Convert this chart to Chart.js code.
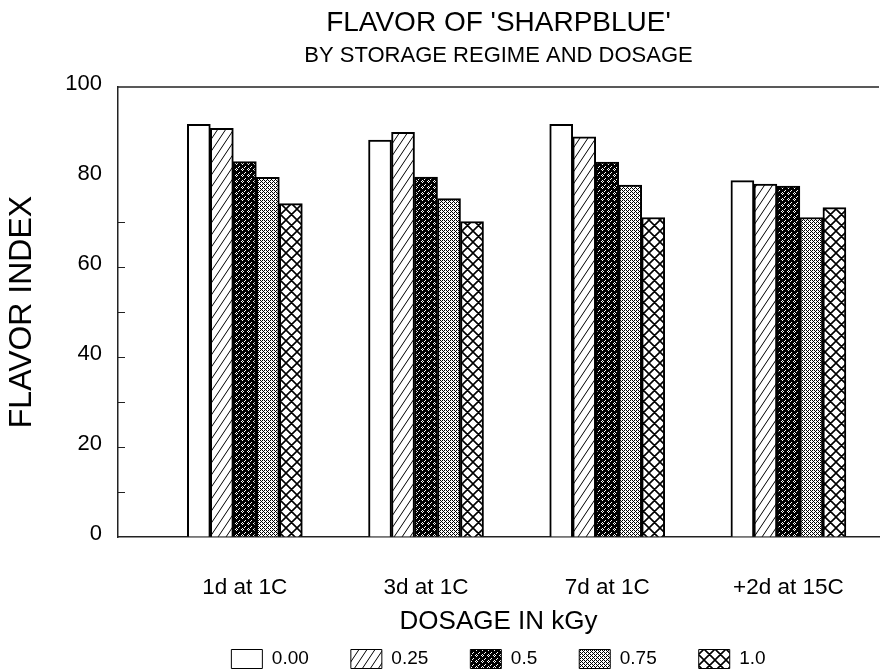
<!DOCTYPE html>
<html>
<head>
<meta charset="utf-8">
<script src="https://cdn.jsdelivr.net/npm/chart.js@4.4.1/dist/chart.umd.min.js"></script>
<style>
html,body{margin:0;padding:0;background:#ffffff;}
#wrap{width:881px;height:671px;}
</style>
</head>
<body>
<div id="wrap"><canvas id="c" width="881" height="671"></canvas></div>
<script>
// ---- data ----
const categories = ['1d at 1C', '3d at 1C', '7d at 1C', '+2d at 15C'];
const dosageLabels = ['0.00', '0.25', '0.5', '0.75', '1.0'];
const flavor000 = [91.7, 88.2, 91.7, 79.2];
const flavor025 = [90.8, 89.9, 88.9, 78.4];
const flavor050 = [83.4, 80.0, 83.3, 78.0];
const flavor075 = [79.9, 75.2, 78.2, 71.0];
const flavor100 = [74.1, 70.1, 71.0, 73.2];
const yTickValues = [0, 20, 40, 60, 80, 100];
const yMinorTicks = [10, 20, 30, 40, 50, 60, 70];

const FONT = "'Liberation Sans', Arial, Helvetica, sans-serif";

// ---- fill patterns ----
function makePattern(w, h, draw) {
  const c = document.createElement('canvas');
  c.width = w; c.height = h;
  const x = c.getContext('2d');
  x.fillStyle = '#ffffff';
  x.fillRect(0, 0, w, h);
  draw(x, w, h);
  return x.createPattern(c, 'repeat');
}
function pixelPattern(rows) {
  const h = rows.length, w = rows[0].length;
  return makePattern(w, h, (x) => {
    x.fillStyle = '#000000';
    rows.forEach((r, j) => { for (let i = 0; i < w; i++) if (r[i] === '#') x.fillRect(i, j, 1, 1); });
  });
}
const hatchPattern = makePattern(8, 12, (x, w, h) => {
  x.strokeStyle = '#000'; x.lineWidth = 1;
  x.beginPath();
  for (const dx of [-w, 0, w]) { x.moveTo(dx, h); x.lineTo(dx + w, 0); }
  x.stroke();
});
const crossPattern = makePattern(11, 11, (x, w, h) => {
  x.strokeStyle = '#000'; x.lineWidth = 1.6;
  x.beginPath();
  for (const dx of [-w, 0, w]) {
    x.moveTo(dx, 0); x.lineTo(dx + w, h);
    x.moveTo(dx, h); x.lineTo(dx + w, 0);
  }
  x.stroke();
});
const darkPattern = pixelPattern([
  '##.###',
  '#.#.##',
  '##.###',
  '######',
  '#####.',
  '####.#'
]);
const greyPattern = pixelPattern([
  '#.#.',
  '.#..',
  '#.#.',
  '...#'
]);
const fills = ['#ffffff', hatchPattern, darkPattern, greyPattern, crossPattern];
const seriesValues = [flavor000, flavor025, flavor050, flavor075, flavor100];

const datasets = dosageLabels.map((lab, k) => ({
  label: lab,
  data: seriesValues[k].map((v, i) => ({ x: i + 1, y: v })),
  backgroundColor: fills[k],
  borderColor: '#000000',
  borderWidth: 2,
  barThickness: 23
}));

const LEGEND_TOP = 607.5;

const framePlugin = {
  id: 'frame',
  afterLayout(chart) {
    const lg = chart.legend;
    if (lg) {
      lg.top = LEGEND_TOP;
      lg.bottom = chart.height;
      lg.height = lg.bottom - lg.top;
    }
  },
  afterDraw(chart) {
    const { ctx, chartArea: a, scales } = chart;
    const y = scales.y;
    ctx.save();
    ctx.strokeStyle = '#222';
    ctx.lineWidth = 1.5;
    ctx.beginPath();
    ctx.moveTo(a.left, a.top);
    ctx.lineTo(a.right, a.top);
    ctx.stroke();
    ctx.lineWidth = 1;
    ctx.beginPath();
    yMinorTicks.forEach(v => {
      const py = Math.round(y.getPixelForValue(v)) + 0.5;
      ctx.moveTo(a.left, py);
      ctx.lineTo(a.left + 7, py);
    });
    ctx.stroke();
    ctx.restore();
  }
};

new Chart(document.getElementById('c'), {
  type: 'bar',
  data: { datasets },
  plugins: [framePlugin],
  options: {
    responsive: false,
    animation: false,
    devicePixelRatio: 1,
    layout: { padding: { left: 0, right: 0, top: 0, bottom: 0 } },
    plugins: {
      title: {
        display: true,
        text: "FLAVOR OF 'SHARPBLUE'",
        fullSize: false,
        color: '#000',
        font: { family: FONT, size: 28, weight: 'normal' },
        padding: { top: 6, bottom: 0 }
      },
      subtitle: {
        display: true,
        text: 'BY STORAGE REGIME AND DOSAGE',
        fullSize: false,
        color: '#000',
        font: { family: FONT, size: 22, weight: 'normal' },
        padding: { top: 3, bottom: 18 }
      },
      legend: {
        display: true,
        position: 'bottom',
        fullSize: false,
        maxHeight: 30,
        labels: {
          color: '#000',
          font: { family: FONT, size: 19 },
          boxWidth: 31,
          boxHeight: 19,
          padding: 42,
          generateLabels(chart) {
            const items = Chart.defaults.plugins.legend.labels.generateLabels(chart);
            items.forEach(it => { it.lineWidth = 1; it.strokeStyle = '#000'; });
            return items;
          }
        }
      },
      tooltip: { enabled: false }
    },
    scales: {
      x: {
        type: 'linear',
        position: 'bottom',
        min: 0.3,
        max: 4.5,
        offset: false,
        afterBuildTicks(scale) { scale.ticks = categories.map((c, i) => ({ value: i + 1 })); },
        afterFit(scale) { scale.height = 104; },
        ticks: {
          autoSkip: false,
          maxRotation: 0,
          padding: 37,
          color: '#000',
          font: { family: FONT, size: 22.5 },
          callback(v) { return categories[Math.round(v) - 1] || ''; }
        },
        grid: { drawOnChartArea: false, drawTicks: false },
        border: { display: true, color: '#222', width: 1.5 },
        title: {
          display: true,
          text: 'DOSAGE IN kGy',
          color: '#000',
          font: { family: FONT, size: 26 },
          padding: { top: 0, bottom: 3.4 }
        }
      },
      y: {
        min: 0,
        max: 100,
        afterBuildTicks(scale) { scale.ticks = yTickValues.map(v => ({ value: v })); },
        afterFit(scale) { scale.width = 118; },
        ticks: {
          padding: 16,
          labelOffset: -3,
          color: '#000',
          font: { family: FONT, size: 22 }
        },
        grid: { drawOnChartArea: false, drawTicks: false },
        border: { display: true, color: '#222', width: 1.5 },
        title: {
          display: true,
          text: 'FLAVOR INDEX',
          color: '#000',
          font: { family: FONT, size: 32 },
          padding: { top: 3, bottom: 0 }
        }
      }
    }
  }
});
</script>
</body>
</html>
